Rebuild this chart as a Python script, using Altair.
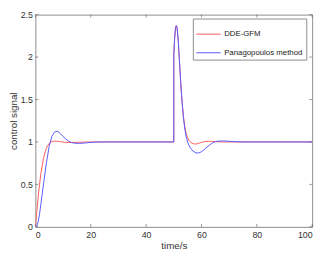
import altair as alt
import pandas as pd

# ---- data ----
time_s = [0, 0.5, 1, 1.5, 2, 3, 4, 5, 6, 7, 8, 9, 10, 11, 12, 13, 14, 16, 18, 20, 22, 25, 30, 40,
          50, 50.01, 50.3, 50.6, 50.9, 51.2, 51.6, 52, 52.5, 53, 53.5, 54, 54.5, 55, 55.5, 56,
          57, 58, 59, 60, 61, 62, 63, 64, 65, 66, 68, 70, 72, 75, 80, 90, 100]
dde_gfm = [0, 0.18, 0.35, 0.5, 0.63, 0.82, 0.93, 0.985, 1.005, 1.01, 1.008, 1.003, 0.998, 0.995,
           0.994, 0.994, 0.995, 0.997, 0.999, 1.0, 1.0, 1.0, 1.0, 1.0,
           1.0, 2.02, 2.22, 2.33, 2.37, 2.34, 2.2, 1.98, 1.7, 1.47, 1.3, 1.18, 1.1, 1.05, 1.02, 1.0,
           0.98, 0.975, 0.985, 0.995, 1.003, 1.008, 1.008, 1.006, 1.004, 1.002, 1.0, 1.0, 1.0, 1.0,
           1.0, 1.0, 1.0]
panagopoulos = [0, 0.01, 0.06, 0.15, 0.27, 0.52, 0.76, 0.95, 1.07, 1.12, 1.125, 1.1, 1.065, 1.035,
                1.01, 0.995, 0.986, 0.983, 0.988, 0.995, 0.999, 1.0, 1.0, 1.0,
                1.0, 2.02, 2.22, 2.34, 2.37, 2.35, 2.2, 1.98, 1.7, 1.47, 1.28, 1.15, 1.06, 1.0, 0.96,
                0.93, 0.89, 0.872, 0.87, 0.885, 0.91, 0.94, 0.965, 0.99, 1.003, 1.01, 1.012, 1.008,
                1.004, 1.0, 1.0, 1.0, 1.0]
series_names = ["DDE-GFM", "Panagopoulos method"]
series_colors = ["#ff5a5a", "#5a5aff"]
x_ticks = [0, 20, 40, 60, 80, 100]
y_ticks = [0, 0.5, 1, 1.5, 2, 2.5]

rows = []
for name, vals in zip(series_names, [dde_gfm, panagopoulos]):
    for t, v in zip(time_s, vals):
        rows.append({"t": t, "v": v, "series": name})
df = pd.DataFrame(rows)

W, H = 283, 217
FONT = "Liberation Sans"
TICK_LEN = 3
TICK_COLOR = "#555555"

xscale = alt.Scale(domain=[0, 100], nice=False, zero=False)
yscale = alt.Scale(domain=[0, 2.5], nice=False, zero=False)

lines = alt.Chart(df).mark_line(strokeWidth=1, clip=True).encode(
    x=alt.X("t:Q", scale=xscale,
            axis=alt.Axis(title="time/s", values=x_ticks, ticks=False, domain=False, grid=False,
                          labelPadding=4, titlePadding=1, labelFontSize=9, titleFontSize=10,
                          titleFontWeight="normal", labelColor="#333333", titleColor="#333333",
                          labelFont=FONT, titleFont=FONT)),
    y=alt.Y("v:Q", scale=yscale,
            axis=alt.Axis(title="control signal", values=y_ticks, ticks=False, domain=False,
                          grid=False, labelPadding=3, titlePadding=2, labelFontSize=9,
                          titleFontSize=10, titleFontWeight="normal", labelColor="#333333",
                          titleColor="#333333", labelFont=FONT, titleFont=FONT,
                          format="~g")),
    color=alt.Color("series:N",
                    scale=alt.Scale(domain=series_names, range=series_colors),
                    legend=alt.Legend(title=None, orient="none", legendX=161, legendY=4,
                                      symbolType="stroke", symbolSize=625, symbolStrokeWidth=1,
                                      labelFontSize=8, labelFont=FONT, labelColor="#222222",
                                      labelOffset=3, padding=3, rowPadding=2,
                                      strokeColor="#8c8c8c", fillColor="white")),
    detail="series:N",
)

xt = pd.DataFrame({"x": x_ticks})
yt = pd.DataFrame({"y": y_ticks})

bottom_ticks = alt.Chart(xt).mark_rule(color=TICK_COLOR, strokeWidth=0.6).encode(
    x=alt.X("x:Q", scale=xscale), y=alt.value(H), y2=alt.value(H - TICK_LEN))
top_ticks = alt.Chart(xt).mark_rule(color=TICK_COLOR, strokeWidth=0.6).encode(
    x=alt.X("x:Q", scale=xscale), y=alt.value(0), y2=alt.value(TICK_LEN))
left_ticks = alt.Chart(yt).mark_rule(color=TICK_COLOR, strokeWidth=0.6).encode(
    y=alt.Y("y:Q", scale=yscale), x=alt.value(0), x2=alt.value(TICK_LEN))
right_ticks = alt.Chart(yt).mark_rule(color=TICK_COLOR, strokeWidth=0.6).encode(
    y=alt.Y("y:Q", scale=yscale), x=alt.value(W), x2=alt.value(W - TICK_LEN))

chart = alt.layer(bottom_ticks, top_ticks, left_ticks, right_ticks, lines).properties(
    width=W, height=H,
    autosize=alt.AutoSizeParams(type="none"),
    padding={"left": 28, "top": 4, "right": 8, "bottom": 26},
    background="white",
).configure_view(stroke="#8c8c8c", strokeWidth=1)

chart.save("out.html", embed_options={"renderer": "svg", "actions": False})
